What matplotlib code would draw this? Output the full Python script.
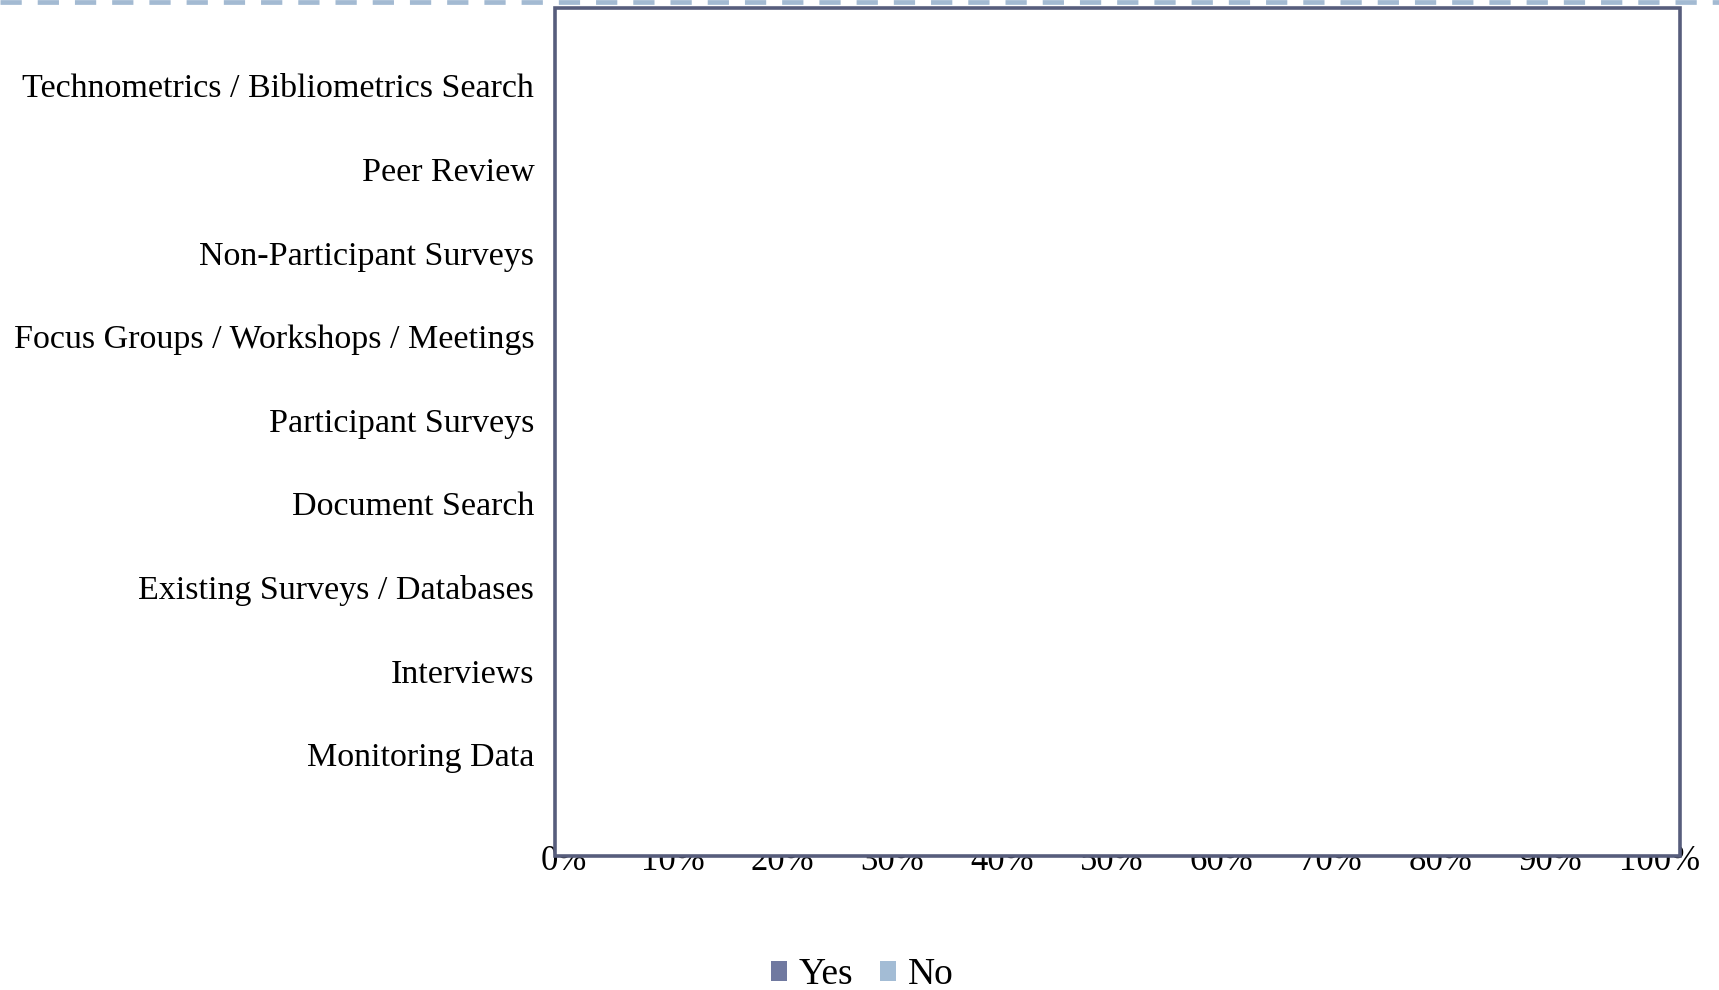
import matplotlib
matplotlib.use("Agg")
import matplotlib.pyplot as plt
from matplotlib.patches import Rectangle, Patch
from matplotlib.lines import Line2D

# --- DATA ---
categories = [
    "Monitoring Data",
    "Interviews",
    "Existing Surveys / Databases",
    "Document Search",
    "Participant Surveys",
    "Focus Groups / Workshops / Meetings",
    "Non-Participant Surveys",
    "Peer Review",
    "Technometrics / Bibliometrics Search",
]
tick_values = [0, 10, 20, 30, 40, 50, 60, 70, 80, 90, 100]
tick_labels = [f"{v}%" for v in tick_values]
series_names = ["Yes", "No"]
series_colors = ["#7079a0", "#a3bcd5"]

BORDER = "#575d7c"
W, H = 1719, 990

plt.rcParams["font.family"] = ["Liberation Serif", "DejaVu Serif"]
plt.rcParams["lines.scale_dashes"] = False

fig = plt.figure(figsize=(W / 100, H / 100), dpi=100)

# axes: x from 563 to 1660 px, y from 8 to 838 px (top-down)
ax = fig.add_axes([563.5 / W, 1 - 838 / H, (1660 - 563.5) / W, (838 - 8) / H])
ax.set_xlim(0, 100)
ax.set_ylim(-1.0, 8.93)
ax.set_yticks(range(len(categories)))
ax.set_yticklabels(categories, fontsize=24.5)
ax.set_xticks(tick_values)
ax.set_xticklabels(tick_labels, fontsize=25)
ax.tick_params(axis="y", length=0, pad=21)
ax.tick_params(axis="x", length=0, pad=5)
for s in ax.spines.values():
    s.set_visible(False)
ax.patch.set_visible(False)

# white plot area with border, sitting on top of the tick labels
plot_area = Rectangle((555 / W, 1 - 856 / H), (1680 - 555) / W, (856 - 8) / H,
                      transform=fig.transFigure, facecolor="white",
                      edgecolor=BORDER, linewidth=2.6, zorder=5)
fig.patches.append(plot_area)

# dashed line along the top edge of the slide
top_line = Line2D([0, 1], [1 - 2.3 / H, 1 - 2.3 / H], transform=fig.transFigure,
                  color="#a3bad2", linewidth=3.4, dashes=(15.3, 11.5),
                  dash_capstyle="butt", zorder=6)
fig.lines.append(top_line)

handles = [Patch(facecolor=c, edgecolor="none") for c in series_colors]
fig.legend(handles, series_names, loc="center", bbox_to_anchor=(862 / W, 1 - 975 / H),
           ncol=2, frameon=False, fontsize=27, handlelength=0.45, handleheight=0.45,
           handletextpad=0.3, columnspacing=0.7, borderpad=0)

fig.savefig("out.png", dpi=100)
